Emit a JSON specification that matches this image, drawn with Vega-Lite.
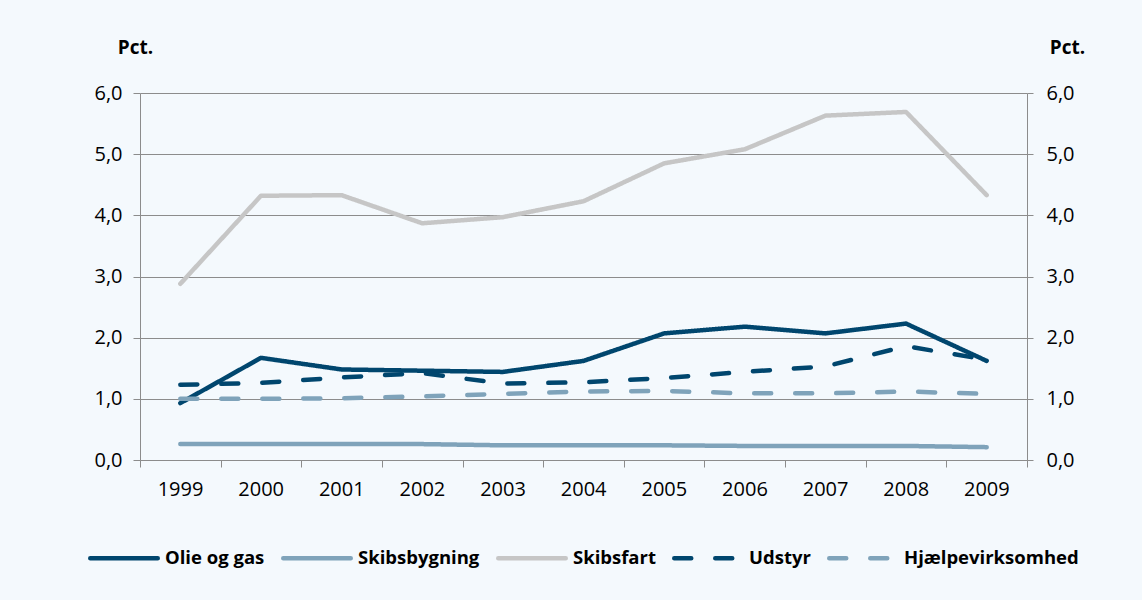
{
  "$schema": "https://vega.github.io/schema/vega-lite/v6.json",
  "width": 887,
  "height": 367,
  "autosize": "none",
  "padding": {"left": 140, "top": 93, "right": 115, "bottom": 140},
  "background": "#F4F9FD",
  "config": {
    "font": "Open Sans",
    "view": {"stroke": null},
    "axis": {"labelColor": "#000000", "labelFont": "Open Sans", "labelFontSize": 20, "domainColor": "#8C8C8C", "tickColor": "#8C8C8C", "gridColor": "#8C8C8C"}
  },
  "data": {"values": [
    {"year": 1999, "serie": "Olie og gas", "value": 0.93},
    {"year": 2000, "serie": "Olie og gas", "value": 1.67},
    {"year": 2001, "serie": "Olie og gas", "value": 1.48},
    {"year": 2002, "serie": "Olie og gas", "value": 1.46},
    {"year": 2003, "serie": "Olie og gas", "value": 1.44},
    {"year": 2004, "serie": "Olie og gas", "value": 1.62},
    {"year": 2005, "serie": "Olie og gas", "value": 2.07},
    {"year": 2006, "serie": "Olie og gas", "value": 2.18},
    {"year": 2007, "serie": "Olie og gas", "value": 2.07},
    {"year": 2008, "serie": "Olie og gas", "value": 2.23},
    {"year": 2009, "serie": "Olie og gas", "value": 1.62},
    {"year": 1999, "serie": "Skibsbygning", "value": 0.26},
    {"year": 2000, "serie": "Skibsbygning", "value": 0.26},
    {"year": 2001, "serie": "Skibsbygning", "value": 0.26},
    {"year": 2002, "serie": "Skibsbygning", "value": 0.26},
    {"year": 2003, "serie": "Skibsbygning", "value": 0.24},
    {"year": 2004, "serie": "Skibsbygning", "value": 0.24},
    {"year": 2005, "serie": "Skibsbygning", "value": 0.24},
    {"year": 2006, "serie": "Skibsbygning", "value": 0.23},
    {"year": 2007, "serie": "Skibsbygning", "value": 0.23},
    {"year": 2008, "serie": "Skibsbygning", "value": 0.23},
    {"year": 2009, "serie": "Skibsbygning", "value": 0.21},
    {"year": 1999, "serie": "Skibsfart", "value": 2.88},
    {"year": 2000, "serie": "Skibsfart", "value": 4.32},
    {"year": 2001, "serie": "Skibsfart", "value": 4.33},
    {"year": 2002, "serie": "Skibsfart", "value": 3.87},
    {"year": 2003, "serie": "Skibsfart", "value": 3.97},
    {"year": 2004, "serie": "Skibsfart", "value": 4.23},
    {"year": 2005, "serie": "Skibsfart", "value": 4.85},
    {"year": 2006, "serie": "Skibsfart", "value": 5.08},
    {"year": 2007, "serie": "Skibsfart", "value": 5.63},
    {"year": 2008, "serie": "Skibsfart", "value": 5.69},
    {"year": 2009, "serie": "Skibsfart", "value": 4.33},
    {"year": 1999, "serie": "Udstyr", "value": 1.23},
    {"year": 2000, "serie": "Udstyr", "value": 1.26},
    {"year": 2001, "serie": "Udstyr", "value": 1.35},
    {"year": 2002, "serie": "Udstyr", "value": 1.42},
    {"year": 2003, "serie": "Udstyr", "value": 1.25},
    {"year": 2004, "serie": "Udstyr", "value": 1.27},
    {"year": 2005, "serie": "Udstyr", "value": 1.34},
    {"year": 2006, "serie": "Udstyr", "value": 1.44},
    {"year": 2007, "serie": "Udstyr", "value": 1.53},
    {"year": 2008, "serie": "Udstyr", "value": 1.86},
    {"year": 2009, "serie": "Udstyr", "value": 1.64},
    {"year": 1999, "serie": "Hjælpevirksomhed", "value": 1.00},
    {"year": 2000, "serie": "Hjælpevirksomhed", "value": 1.00},
    {"year": 2001, "serie": "Hjælpevirksomhed", "value": 1.01},
    {"year": 2002, "serie": "Hjælpevirksomhed", "value": 1.04},
    {"year": 2003, "serie": "Hjælpevirksomhed", "value": 1.08},
    {"year": 2004, "serie": "Hjælpevirksomhed", "value": 1.12},
    {"year": 2005, "serie": "Hjælpevirksomhed", "value": 1.13},
    {"year": 2006, "serie": "Hjælpevirksomhed", "value": 1.09},
    {"year": 2007, "serie": "Hjælpevirksomhed", "value": 1.09},
    {"year": 2008, "serie": "Hjælpevirksomhed", "value": 1.12},
    {"year": 2009, "serie": "Hjælpevirksomhed", "value": 1.08}
  ]},
  "layer": [
    {
      "mark": {"type": "line", "strokeWidth": 4.5, "strokeCap": "round", "strokeJoin": "round"},
      "encoding": {
        "x": {
          "field": "year", "type": "quantitative",
          "scale": {"domain": [1998.5, 2009.5], "nice": false, "zero": false},
          "axis": {
            "title": null, "grid": false,
            "values": [1998.5, 1999.5, 2000.5, 2001.5, 2002.5, 2003.5, 2004.5, 2005.5, 2006.5, 2007.5, 2008.5, 2009.5],
            "labelExpr": "datum.value < 2009 ? format(datum.value + 0.5, 'd') : ''",
            "labelOffset": 40, "labelAlign": "center", "labelPadding": 12, "tickSize": 7, "labelOverlap": false, "labelBound": false, "labelFlush": false
          }
        },
        "y": {
          "field": "value", "type": "quantitative",
          "scale": {"domain": [0, 6], "nice": false},
          "axis": {
            "orient": "left", "values": [0, 1, 2, 3, 4, 5, 6], "grid": true,
            "labelExpr": "replace(format(datum.value, '.1f'), '.', ',')",
            "tickSize": 7, "labelPadding": 11,
            "title": "Pct.", "titleAngle": 0, "titleAlign": "center", "titleBaseline": "middle",
            "titleX": -5, "titleY": -46, "titleFontSize": 19, "titleFontWeight": "bold", "titleColor": "#000000", "titleFont": "Open Sans"
          }
        },
        "stroke": {
          "field": "serie", "type": "nominal",
          "scale": {
            "domain": ["Olie og gas", "Skibsbygning", "Skibsfart", "Udstyr", "Hjælpevirksomhed"],
            "range": ["#00466E", "#7FA3BA", "#C6C6C6", "#00466E", "#7FA3BA"]
          },
          "legend": {
            "title": null, "orient": "none", "direction": "horizontal", "legendX": -52, "legendY": 429,
            "symbolType": "stroke", "symbolSize": 4556, "symbolStrokeWidth": 4.5,
            "labelFontSize": 18.5, "labelFontWeight": "bold", "labelColor": "#000000", "labelFont": "Open Sans",
            "labelOffset": 5, "columnPadding": 9, "labelLimit": 400,
            "encode": {"symbols": {"update": {"strokeCap": {"value": "round"}}}}
          }
        },
        "strokeDash": {
          "field": "serie", "type": "nominal",
          "scale": {
            "domain": ["Olie og gas", "Skibsbygning", "Skibsfart", "Udstyr", "Hjælpevirksomhed"],
            "range": [[1, 0], [1, 0], [1, 0], [17, 24], [17, 24]]
          },
          "legend": null
        }
      }
    },
    {
      "mark": {"type": "point", "opacity": 0},
      "encoding": {
        "x": {"field": "year", "type": "quantitative"},
        "y": {
          "field": "value", "type": "quantitative",
          "axis": {
            "orient": "right", "values": [0, 1, 2, 3, 4, 5, 6], "grid": false,
            "labelExpr": "replace(format(datum.value, '.1f'), '.', ',')",
            "tickSize": 6, "labelPadding": 13,
            "title": "Pct.", "titleAngle": 0, "titleAlign": "center", "titleBaseline": "middle",
            "titleX": 40, "titleY": -46, "titleFontSize": 19, "titleFontWeight": "bold", "titleColor": "#000000", "titleFont": "Open Sans"
          }
        }
      }
    }
  ],
  "resolve": {"scale": {"y": "shared"}, "axis": {"y": "independent"}}
}
